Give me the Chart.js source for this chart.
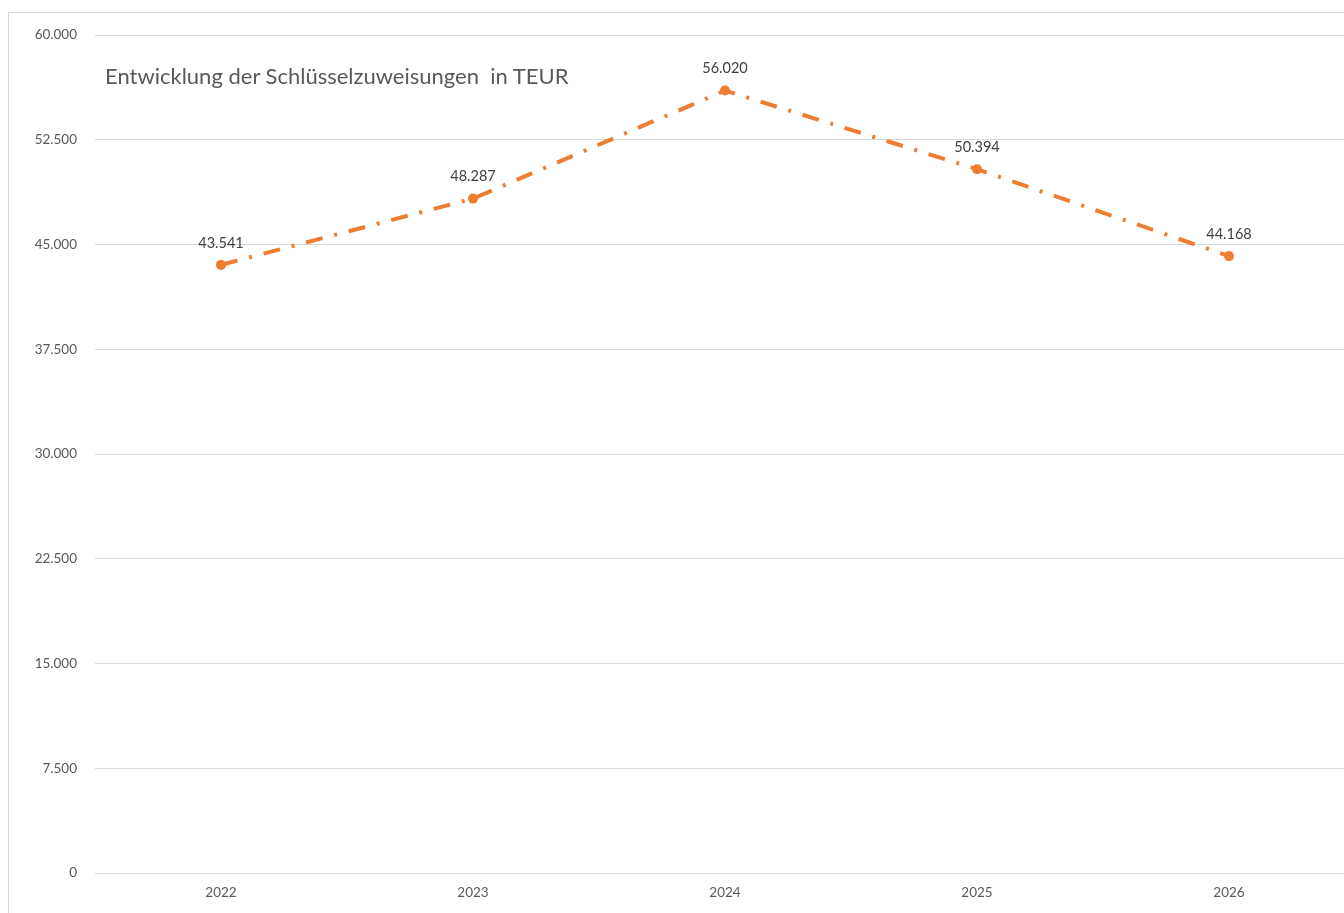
<!DOCTYPE html>
<html>
<head>
<meta charset="utf-8">
<script src="https://cdn.jsdelivr.net/npm/chart.js@4.4.1/dist/chart.umd.min.js"></script>
<style>
  html, body { margin:0; padding:0; background:#fff; overflow:hidden; }
  #frame { position:absolute; left:8px; top:12px; width:1360px; height:938px; border:1px solid #d9d9d9; }
  #title { position:absolute; left:105px; top:62px; font-family:Lato, "Open Sans", sans-serif; font-size:22px; color:#595959; white-space:pre; }
</style>
</head>
<body>
<div id="frame"><canvas id="c" width="1360" height="938"></canvas></div>
<div id="title">Entwicklung der Schlüsselzuweisungen  in TEUR</div>
<script>
const years = ['2022', '2023', '2024', '2025', '2026'];
const zuweisungen = [43541, 48287, 56020, 50394, 44168];
const yTicks = [0, 7500, 15000, 22500, 30000, 37500, 45000, 52500, 60000];

const fmt = v => String(v).replace(/\B(?=(\d{3})+(?!\d))/g, '.');

// point labels above each marker
const pointLabels = {
  id:'pointLabels',
  afterDatasetsDraw(chart){
    const ctx = chart.ctx;
    const meta = chart.getDatasetMeta(0);
    ctx.save();
    ctx.font = '14.5px Lato, "Open Sans", sans-serif';
    ctx.fillStyle = '#404040';
    ctx.textAlign = 'center';
    ctx.textBaseline = 'middle';
    meta.data.forEach((pt, i) => {
      ctx.fillText(fmt(zuweisungen[i]), pt.x, pt.y - 22);
    });
    ctx.restore();
  }
};

new Chart(document.getElementById('c'), {
  type:'line',
  data:{ labels:years, datasets:[{
    data:zuweisungen,
    borderColor:'#ED7D31', backgroundColor:'#ED7D31',
    borderWidth:4, borderDash:[17, 12, 3, 12], borderCapStyle:'butt',
    pointRadius:5, pointBackgroundColor:'#ED7D31', pointBorderWidth:0,
    tension:0, fill:false
  }]},
  options:{
    responsive:false, animation:false,
    layout:{ padding:{ top:22, right:14, bottom:48, left:0 } },
    plugins:{ legend:{display:false}, tooltip:{enabled:false}, title:{display:false} },
    scales:{
      x:{
        offset:true,
        grid:{ display:false, drawTicks:false },
        border:{ display:false },
        ticks:{ color:'#595959', font:{ family:'Lato, "Open Sans", sans-serif', size:13.5 }, padding:12 },
        afterFit(s){ s.height = 30; s.paddingLeft = 0; s.paddingRight = 0; }
      },
      y:{
        min:0, max:60000,
        afterBuildTicks(s){ s.ticks = yTicks.map(v => ({ value:v })); },
        grid:{ color:'#d9d9d9', lineWidth:1, drawTicks:false },
        border:{ display:false },
        ticks:{ color:'#595959', font:{ family:'Lato, "Open Sans", sans-serif', size:13.5 }, padding:18, callback:v => fmt(v) },
        afterFit(s){ s.width = 86; s.paddingTop = 0; s.paddingBottom = 0; }
      }
    }
  },
  plugins:[pointLabels]
});
</script>
</body>
</html>
